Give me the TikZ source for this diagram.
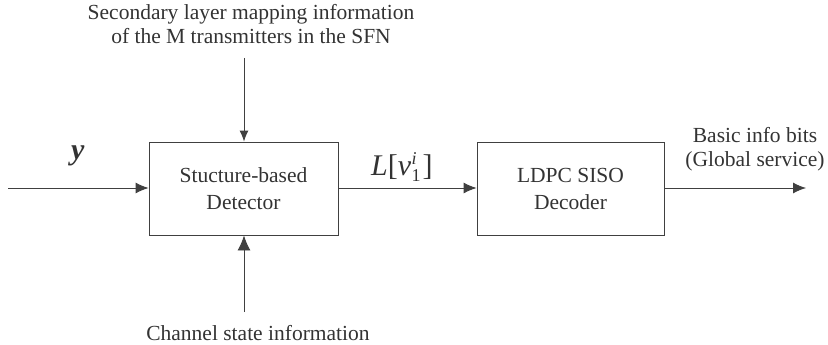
\documentclass[tikz,border=0pt]{standalone}
\usepackage{fontspec}
\setmainfont{Liberation Serif}
\usetikzlibrary{arrows.meta}
\begin{document}
\begin{tikzpicture}[x=1pt,y=-1pt,
  blockbox/.style={draw=black!75,line width=0.9pt,minimum height=93pt,inner sep=0pt,align=center,font=\fontsize{21.5}{27}\selectfont,text=black!80},
  lbl/.style={align=center,font=\fontsize{21.5}{24}\selectfont,text=black!80,inner sep=0pt},
  flow/.style={draw=black!75,line width=0.9pt,-{Latex[length=13pt,width=11pt]}},
  thin/.style={draw=black!75,line width=0.9pt,-{Latex[length=11pt,width=9pt]}},
  big/.style={draw=black!75,line width=0.9pt,-{Latex[length=15pt,width=13pt]}}]
\useasboundingbox (0,0) rectangle (828,345);
\node[blockbox,minimum width=189pt] (det) at (243.5,188.5) {Stucture-based\\Detector};
\node[blockbox,minimum width=187pt] (dec) at (570.5,188.5) {LDPC SISO\\Decoder};
\coordinate (in) at (8,188);
\coordinate (out) at (806,188);
\coordinate (topsrc) at (244,58);
\coordinate (botsrc) at (244,312);
\node[lbl] (sec) at (251,24) {Secondary layer mapping information\\of the M transmitters in the SFN};
\node[lbl,anchor=base] (csi) at (258,340) {Channel state information};
\node[lbl] (basic) at (755,149) {Basic info bits\\(Global service)};
\node[lbl,anchor=base west,font=\fontsize{30}{30}\selectfont\bfseries\itshape] (y) at (71,159.5) {y};
\node[lbl,anchor=base west,font=\fontsize{30}{30}\selectfont] (llr) at (371,175)
  {\textit{L}[\textit{v}\kern0.5pt\rlap{\raisebox{11pt}{\fontsize{18}{18}\selectfont\textit{i}}}\raisebox{-6pt}{\fontsize{18}{18}\selectfont 1}\kern2pt]};
\draw[flow] (in) -- (in -| det.west);
\draw[flow] (det.east |- in) -- (dec.west |- in);
\draw[flow] (dec.east |- in) -- (out);
\draw[thin] (topsrc) -- (det.north -| topsrc);
\draw[big] (botsrc) -- (det.south -| botsrc);
\end{tikzpicture}
\end{document}
